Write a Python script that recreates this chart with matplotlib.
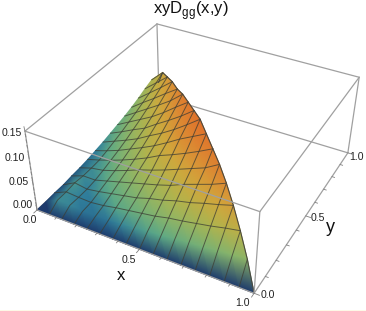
import numpy as np
import matplotlib
matplotlib.use("Agg")
import matplotlib.pyplot as plt
from matplotlib.colors import LinearSegmentedColormap, PowerNorm
from matplotlib.tri import Triangulation

plt.rcParams['font.family'] = ['Liberation Sans', 'DejaVu Sans']
plt.rcParams['mathtext.fontset'] = 'custom'
plt.rcParams['mathtext.rm'] = 'Liberation Sans'

# Surface heights (thousandths); row = x index, column = y index, step 1/16
surface_z = [
    [0,0,1,1,3,4,6,9,12,16,20,24,29,35,42,48,30],
    [0,12,12,14,12,12,13,17,22,27,33,39,46,53,61,70],
    [0,11,10,10,12,16,21,26,32,39,46,54,62,71,80],
    [0,8,9,14,19,24,30,37,43,50,59,69,79,90],
    [0,7,12,19,26,33,40,48,57,66,75,85,95],
    [0,8,17,24,33,43,51,60,70,81,93,105],
    [0,11,21,29,40,51,64,74,85,97,110],
    [0,13,25,37,47,60,74,89,102,115],
    [0,16,29,43,55,70,85,102,120],
    [0,18,35,51,66,80,97,115],
    [0,21,39,57,75,90,110],
    [0,24,44,65,84,105],
    [0,26,49,72,95],
    [0,29,55,80],
    [0,32,60],
    [0,35],
    [0],
]
x_ticks = [0.0, 0.5, 1.0]
y_ticks = [0.0, 0.5, 1.0]
z_ticks = [0.00, 0.05, 0.10, 0.15]
n_mesh = 16
z_top = 0.15

world = np.array([[0,0,0],[1,0,0],[1,1,0],[0,0,1],[1,0,1],[1,1,1],[0,1,1]], float)
pix = np.array([[37,210],[254,293],[348,153],[25,131],[260,212],[359,77],[157,24]], float)
A = []
for (X, Y, Z), (u, v) in zip(world, pix):
    A.append([X,Y,Z,1,0,0,0,0,-u*X,-u*Y,-u*Z,-u])
    A.append([0,0,0,0,X,Y,Z,1,-v*X,-v*Y,-v*Z,-v])
P = np.linalg.svd(np.array(A))[2][-1].reshape(3, 4)

def proj(x, y, z):
    x, y, z = np.broadcast_arrays(np.asarray(x, float), np.asarray(y, float), np.asarray(z, float))
    h = np.stack([x, y, z / z_top, np.ones_like(x)], -1) @ P.T
    return h[..., 0] / h[..., 2], h[..., 1] / h[..., 2]

fig = plt.figure(figsize=(3.66, 3.11), dpi=100)
ax = fig.add_axes([0, 0, 1, 1])
ax.set_xlim(0, 366); ax.set_ylim(311, 0); ax.axis('off')
ax.axhspan(309.5, 311, color='#fdf8e6', lw=0)

box_c = '#a0a0a0'
def edge(a, b, **kw):
    u, v = proj([a[0], b[0]], [a[1], b[1]], [a[2]*z_top, b[2]*z_top])
    ax.plot(u, v, solid_capstyle='round', **{'color': box_c, 'lw': 0.9, **kw})

for a, b in [((0,1,0),(1,1,0)), ((0,0,0),(0,1,0)), ((0,1,0),(0,1,1)),
             ((0,1,1),(1,1,1)), ((1,1,0),(1,1,1)), ((0,0,1),(0,1,1))]:
    edge(a, b)

index, xs, ys, zs = {}, [], [], []
for i, row in enumerate(surface_z):
    for j, v in enumerate(row):
        index[(i, j)] = len(xs)
        xs.append(i / n_mesh); ys.append(j / n_mesh); zs.append(v / 1000)
xs, ys, zs = map(np.array, (xs, ys, zs))
tris = []
for j in range(n_mesh - 1, -1, -1):
    for i in range(n_mesh - 1, -1, -1):
        if i + j + 1 <= n_mesh:
            tris.append([index[(i, j)], index[(i + 1, j)], index[(i, j + 1)]])
        if i + j + 2 <= n_mesh:
            tris.append([index[(i + 1, j)], index[(i + 1, j + 1)], index[(i, j + 1)]])
cmap = LinearSegmentedColormap.from_list('surf', [
    (0.00, '#1d3a6c'), (0.20, '#24587f'), (0.32, '#2f7d9c'), (0.42, '#5aa888'), (0.55, '#86b46c'),
    (0.68, '#afb44e'), (0.80, '#d0a83c'), (0.90, '#dd8a33'), (1.00, '#e0702a')])
u, v = proj(xs, ys, zs)
ax.tripcolor(Triangulation(u, v, np.array(tris)), zs, shading='gouraud',
             cmap=cmap, norm=PowerNorm(0.45, 0, 0.12), zorder=2)

mesh_c = '#3c3c34'
for i in range(1, n_mesh):
    row = np.array(surface_z[i]) / 1000
    j = np.arange(len(row))
    a, b = proj(i / n_mesh, j / n_mesh, row)
    ax.plot(a, b, color=mesh_c, lw=0.7, alpha=0.75, zorder=3)
for j in range(2, n_mesh):
    i = np.arange(0, n_mesh - j + 1)
    col = np.array([surface_z[k][j] for k in i]) / 1000
    a, b = proj(i / n_mesh, j / n_mesh, col)
    ax.plot(a, b, color=mesh_c, lw=0.7, alpha=0.75, zorder=3)
i = np.arange(0, n_mesh + 1)
a, b = proj(i / n_mesh, (n_mesh - i) / n_mesh, [surface_z[k][n_mesh - k] / 1000 for k in i])
ax.plot(a, b, color='#4a4a40', lw=0.8, zorder=3)

for a, b in [((0,0,0),(1,0,0)), ((1,0,0),(1,1,0)), ((0,0,0),(0,0,1)),
             ((1,0,0),(1,0,1)), ((0,0,1),(1,0,1)), ((1,0,1),(1,1,1))]:
    edge(a, b, zorder=4)

tick_c = '#808080'
for t in np.arange(0, 1.001, 0.1):
    L = 0.022 if abs(t * 2 - round(t * 2)) < 1e-6 else 0.012
    a, b = proj([t, t], [0, -L], [0, 0]); ax.plot(a, b, color=tick_c, lw=0.6, zorder=4)
    a, b = proj([1, 1 + L], [t, t], [0, 0]); ax.plot(a, b, color=tick_c, lw=0.6, zorder=4)
for t in np.arange(0, 0.1501, 0.01):
    L = 0.022 if abs(t * 20 - round(t * 20)) < 1e-6 else 0.012
    a, b = proj([0, -L], [0, L], [t, t]); ax.plot(a, b, color=tick_c, lw=0.6, zorder=4)

lab = dict(fontsize=7.6, color='#222222', ha='center', va='center')
for t, p in zip(x_ticks, [(30, 220), (129, 260), (242, 303)]):
    ax.text(*p, f'{t:.1f}', **lab)
for t, p in zip(y_ticks, [(268, 295), (318, 218), (356, 157)]):
    ax.text(*p, f'{t:.1f}', **lab)
for t, p in zip(z_ticks, [(22.5, 205), (18.5, 182), (14.5, 158), (11.5, 133)]):
    ax.text(*p, f'{t:.2f}', **lab)
ax.text(121, 276, 'x', fontsize=12, color='#111111', ha='center', va='center')
ax.text(330, 227, 'y', fontsize=13, color='#111111', ha='center', va='center')
ax.text(191, 11, r'xyD$_{\mathrm{gg}}$(x,y)', fontsize=12, color='#111111', ha='center', va='center')

fig.savefig('out.png', dpi=100)
